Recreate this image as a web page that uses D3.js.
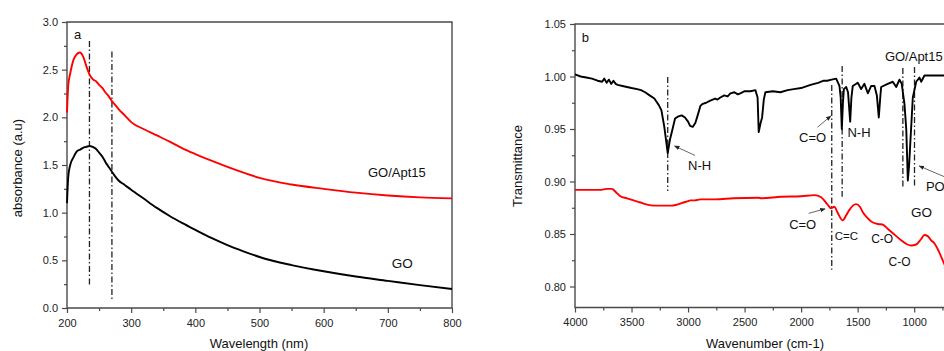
<!DOCTYPE html>
<html>
<head>
<meta charset="utf-8">
<script src="https://cdn.jsdelivr.net/npm/d3@7"></script>
<style>
  body { margin: 0; background: #fff; }
  svg { display: block; }
  text { font-family: "Liberation Sans", Arial, sans-serif; }
</style>
</head>
<body>
<div id="chart"></div>
<script>
// ---- data: (a) UV-Vis absorbance ----
var uvWavelength = [200, 202, 205, 210, 215, 220, 225, 230, 235, 240, 245, 250, 255, 260, 265, 270, 275, 280, 290, 300,
  320, 340, 360, 380, 400, 425, 450, 475, 500, 550, 600, 650, 700, 750, 800];
var uvGOApt15 = [2.05, 2.34, 2.46, 2.60, 2.66, 2.68, 2.64, 2.54, 2.45, 2.40, 2.38, 2.34, 2.31, 2.26, 2.22, 2.17, 2.13, 2.09, 2.02, 1.95,
  1.875, 1.81, 1.745, 1.675, 1.615, 1.545, 1.48, 1.42, 1.365, 1.295, 1.25, 1.21, 1.18, 1.16, 1.15];
var uvGO = [1.10, 1.38, 1.50, 1.58, 1.64, 1.66, 1.68, 1.69, 1.70, 1.69, 1.67, 1.63, 1.59, 1.53, 1.48, 1.43, 1.38, 1.34, 1.29, 1.24,
  1.145, 1.05, 0.965, 0.89, 0.82, 0.735, 0.66, 0.595, 0.535, 0.45, 0.385, 0.33, 0.285, 0.24, 0.20];
var uvMarkWl = [235, 270];
var uvMarkTop = [2.80, 2.69];
var uvMarkBottom = [0.22, 0.09];
var uvXTicks = [200, 300, 400, 500, 600, 700, 800];
var uvYTicks = [0.0, 0.5, 1.0, 1.5, 2.0, 2.5, 3.0];

// ---- data: (b) FTIR transmittance ----
var irBlackWn = [4000, 3950, 3900, 3850, 3800, 3760, 3741, 3720, 3700, 3680, 3660, 3640, 3623, 3580, 3540, 3500, 3450, 3416, 3380, 3340,
  3298, 3260, 3236, 3210, 3180, 3160, 3144, 3115, 3085, 3056, 3027, 3000, 2982, 2959, 2935, 2915, 2891, 2870, 2840, 2803,
  2760, 2740, 2714, 2680, 2650, 2625, 2590, 2560, 2537, 2500, 2448, 2404, 2385, 2375, 2360, 2345, 2330, 2316, 2250, 2183,
  2120, 2065, 2000, 1917, 1850, 1800, 1770, 1730, 1690, 1661, 1650, 1640, 1630, 1622, 1601, 1585, 1566, 1555, 1543, 1499,
  1469, 1440, 1410, 1380, 1351, 1330, 1313, 1300, 1292, 1234, 1189, 1159, 1130, 1110, 1086, 1070, 1056, 1045, 1033, 1012,
  982, 953, 938, 909, 850, 732, 700];
var irBlackT = [1.002, 1.000, 0.999, 0.998, 0.996, 0.995, 0.998, 0.994, 0.997, 0.993, 0.996, 0.993, 0.992, 0.991, 0.990, 0.989, 0.988, 0.987, 0.985, 0.982,
  0.979, 0.973, 0.968, 0.952, 0.927, 0.940, 0.947, 0.960, 0.962, 0.963, 0.961, 0.957, 0.953, 0.952, 0.956, 0.963, 0.972, 0.974, 0.975, 0.977,
  0.979, 0.978, 0.980, 0.982, 0.981, 0.984, 0.985, 0.983, 0.984, 0.986, 0.986, 0.987, 0.980, 0.947, 0.955, 0.961, 0.978, 0.985, 0.986, 0.985,
  0.987, 0.988, 0.989, 0.992, 0.994, 0.996, 0.996, 0.997, 0.998, 0.991, 0.980, 0.950, 0.975, 0.988, 0.990, 0.985, 0.957, 0.980, 0.991, 0.994,
  0.988, 0.993, 0.984, 0.991, 0.991, 0.982, 0.961, 0.980, 0.990, 0.993, 0.995, 0.990, 0.997, 0.993, 0.974, 0.950, 0.901, 0.915, 0.939, 0.980,
  0.995, 0.999, 0.995, 1.001, 1.001, 1.001, 1.000];
var irRedWn = [4000, 3880, 3776, 3720, 3673, 3640, 3599, 3540, 3481, 3420, 3363, 3300, 3216, 3150, 3097, 3040, 3009, 2980, 2940, 2891,
  2860, 2762, 2600, 2378, 2350, 2177, 2000, 1882, 1823, 1765, 1735, 1706, 1680, 1632, 1600, 1573, 1514, 1480, 1455, 1420,
  1380, 1322, 1280, 1234, 1180, 1115, 1060, 1027, 982, 940, 909, 880, 850, 820, 780, 732, 700];
var irRedT = [0.892, 0.892, 0.892, 0.893, 0.893, 0.890, 0.886, 0.884, 0.882, 0.880, 0.878, 0.877, 0.877, 0.877, 0.878, 0.880, 0.881, 0.882, 0.882, 0.883,
  0.883, 0.883, 0.884, 0.8845, 0.884, 0.8855, 0.886, 0.887, 0.885, 0.878, 0.8745, 0.876, 0.871, 0.863, 0.868, 0.873, 0.8785, 0.876, 0.871, 0.866,
  0.862, 0.8595, 0.859, 0.855, 0.850, 0.844, 0.840, 0.839, 0.840, 0.845, 0.849, 0.848, 0.844, 0.841, 0.833, 0.821, 0.814];
var irMarkWn = [3180, 1729, 1637, 1100, 997];
var irMarkTop = [0.9995, 0.992, 1.010, 1.008, 1.009];
var irMarkBottom = [0.891, 0.816, 0.8855, 0.894, 0.895];
var irXTicks = [4000, 3500, 3000, 2500, 2000, 1500, 1000];
var irYTicks = [0.80, 0.85, 0.90, 0.95, 1.00, 1.05];

var svg = d3.select("#chart").append("svg")
  .attr("width", 944)
  .attr("height", 351)
  .style("background", "#fff");

// arrow head
svg.append("defs").append("marker")
  .attr("id", "arr")
  .attr("viewBox", "0 0 10 10")
  .attr("refX", 9).attr("refY", 5)
  .attr("markerWidth", 6).attr("markerHeight", 6)
  .attr("orient", "auto")
  .append("path").attr("d", "M0,1 L10,5 L0,9 z").attr("fill", "#222");

var axisColor = "#4a4a4a";

function frame(x, y, xMajor, xMinor, yMajor, yMinor, fx, fy, xPad, yPad) {
  var x0 = x.range()[0], x1 = x.range()[1], y0 = y.range()[0], y1 = y.range()[1];
  // minor ticks
  svg.append("g").attr("transform", "translate(0," + y0 + ")")
    .call(d3.axisBottom(x).tickValues(xMinor).tickSize(3).tickFormat(""))
    .call(g => g.select(".domain").remove());
  svg.append("g").attr("transform", "translate(" + x0 + ",0)")
    .call(d3.axisLeft(y).tickValues(yMinor).tickSize(3).tickFormat(""))
    .call(g => g.select(".domain").remove());
  // major ticks
  var gx = svg.append("g").attr("transform", "translate(0," + y0 + ")")
    .call(d3.axisBottom(x).tickValues(xMajor).tickSize(5).tickPadding(xPad).tickFormat(fx));
  var gy = svg.append("g").attr("transform", "translate(" + x0 + ",0)")
    .call(d3.axisLeft(y).tickValues(yMajor).tickSize(5).tickPadding(yPad).tickFormat(fy));
  [gx, gy].forEach(function (g) {
    g.select(".domain").remove();
    g.selectAll("text").attr("font-size", 11).attr("fill", "#222")
      .attr("font-family", '"Liberation Sans", Arial, sans-serif');
  });
  svg.selectAll(".tick line").attr("stroke", axisColor).attr("stroke-width", 1.2);
  // box
  svg.append("path")
    .attr("d", "M" + x0 + "," + y1 + "H" + x1 + "V" + y0 + "H" + x0 + "Z")
    .attr("fill", "none").attr("stroke", axisColor).attr("stroke-width", 1.4);
}

function curve(x, y, xs, ys, color, c) {
  svg.append("path")
    .datum(xs.map(function (d, i) { return [d, ys[i]]; }))
    .attr("fill", "none")
    .attr("stroke", color)
    .attr("stroke-width", 1.9)
    .attr("stroke-linejoin", "round")
    .attr("d", d3.line().x(d => x(d[0])).y(d => y(d[1])).curve(c));
}

function marks(x, y, pos, top, bottom) {
  svg.append("g").selectAll("line").data(pos).enter().append("line")
    .attr("x1", d => x(d)).attr("x2", d => x(d))
    .attr("y1", (d, i) => y(top[i])).attr("y2", (d, i) => y(bottom[i]))
    .attr("stroke", "#222").attr("stroke-width", 1.3)
    .attr("stroke-dasharray", "6,2.5,1.5,2.5");
}

function label(x, y, t, px, py, size) {
  svg.append("text").attr("x", x(px)).attr("y", y(py))
    .attr("font-size", size || 13).attr("fill", "#111").text(t);
}

function arrow(x, y, ax, ay, bx, by) {
  svg.append("line")
    .attr("x1", x(ax)).attr("y1", y(ay)).attr("x2", x(bx)).attr("y2", y(by))
    .attr("stroke", "#555").attr("stroke-width", 0.9)
    .attr("marker-end", "url(#arr)");
}

// ---------- panel a ----------
var xa = d3.scaleLinear().domain([200, 800]).range([67, 452]);
var ya = d3.scaleLinear().domain([0, 3]).range([308, 22]);
frame(xa, ya, uvXTicks, d3.range(250, 800, 100), uvYTicks, d3.range(0.25, 3, 0.5),
  d3.format("d"), d3.format(".1f"), 6, 4);
marks(xa, ya, uvMarkWl, uvMarkTop, uvMarkBottom);
curve(xa, ya, uvWavelength, uvGOApt15, "#ff0000", d3.curveMonotoneX);
curve(xa, ya, uvWavelength, uvGO, "#000", d3.curveMonotoneX);
label(xa, ya, "a", 211, 2.82, 13);
label(xa, ya, "GO/Apt15", 669, 1.374, 13);
label(xa, ya, "GO", 706, 0.42, 13.5);

svg.append("text").attr("transform", "translate(22,168) rotate(-90)")
  .attr("text-anchor", "middle").attr("font-size", 13).attr("fill", "#111")
  .text("absorbance (a.u)");
svg.append("text").attr("x", 259).attr("y", 348)
  .attr("text-anchor", "middle").attr("font-size", 13).attr("fill", "#111")
  .text("Wavelength (nm)");

// ---------- panel b ----------
var xb = d3.scaleLinear().domain([4000, 400]).range([575, 982]);
var yb = d3.scaleLinear().domain([0.78, 1.05]).range([307.5, 24]);
frame(xb, yb, irXTicks, d3.range(3750, 400, -500), irYTicks, d3.range(0.825, 1.05, 0.05),
  d3.format("d"), d3.format(".2f"), 6, 4);
marks(xb, yb, irMarkWn, irMarkTop, irMarkBottom);
curve(xb, yb, irRedWn, irRedT, "#ff0000", d3.curveMonotoneX);
curve(xb, yb, irBlackWn, irBlackT, "#000", d3.curveLinear);

label(xb, yb, "b", 3941, 1.0333, 13);
label(xb, yb, "N-H", 3000, 0.911, 13);
arrow(xb, yb, 2938, 0.9248, 3119, 0.9338);
label(xb, yb, "C=O", 2018, 0.938, 13);
arrow(xb, yb, 1856, 0.9516, 1737, 0.9624);
label(xb, yb, "N-H", 1590, 0.9427, 13);
label(xb, yb, "GO/Apt15", 1259, 1.015, 13);
label(xb, yb, "PO\u2082", 896, 0.891, 13);
arrow(xb, yb, 717, 0.9038, 956, 0.9148);
label(xb, yb, "GO", 1029, 0.8665, 13.5);
label(xb, yb, "C=O", 2106, 0.8552, 13);
arrow(xb, yb, 1933, 0.8697, 1788, 0.874);
label(xb, yb, "C=C", 1702, 0.8443, 11.5);
label(xb, yb, "C-O", 1380, 0.8417, 12);
label(xb, yb, "C-O", 1227, 0.8195, 12);

svg.append("text").attr("transform", "translate(522,166) rotate(-90)")
  .attr("text-anchor", "middle").attr("font-size", 13).attr("fill", "#111")
  .text("Transmittance");
svg.append("text").attr("x", 765).attr("y", 348)
  .attr("text-anchor", "middle").attr("font-size", 13).attr("fill", "#111")
  .text("Wavenumber (cm-1)");
</script>
</body>
</html>
